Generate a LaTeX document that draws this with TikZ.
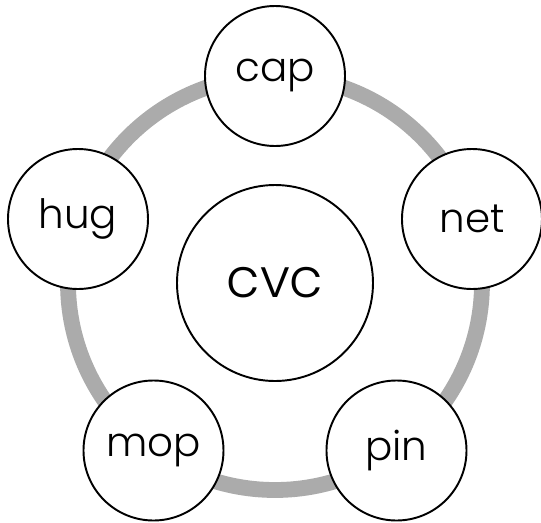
\documentclass[tikz,border=0pt]{standalone}
\usepackage{fontspec}
\setmainfont{Poppins Light}
\definecolor{ringgray}{HTML}{ABABAB}
\begin{document}
\begin{tikzpicture}[word/.style={draw,circle,fill=white,line width=1.1pt,minimum size=2.8cm,inner sep=0pt,font=\fontsize{23}{27}\selectfont}]
\useasboundingbox (-5.5,-4.78) rectangle (5.32,5.66);
\node[draw,circle,line width=1.1pt,minimum size=3.92cm,inner sep=0pt,font=\fontsize{31}{37}\selectfont] (cvc) at (0,0) {cvc};
\draw[ringgray,line width=9pt] (cvc.center) circle (4.14);

\node[word] (cap) at (0,4.14) {cap};
\node[word] (net) at (3.94,1.28) {net};
\node[word] (pin) at (2.43,-3.35) {pin};
\node[word] (mop) at (-2.43,-3.35) {mop};
\node[word] (hug) at (-3.94,1.28) {hug};
\end{tikzpicture}
\end{document}
